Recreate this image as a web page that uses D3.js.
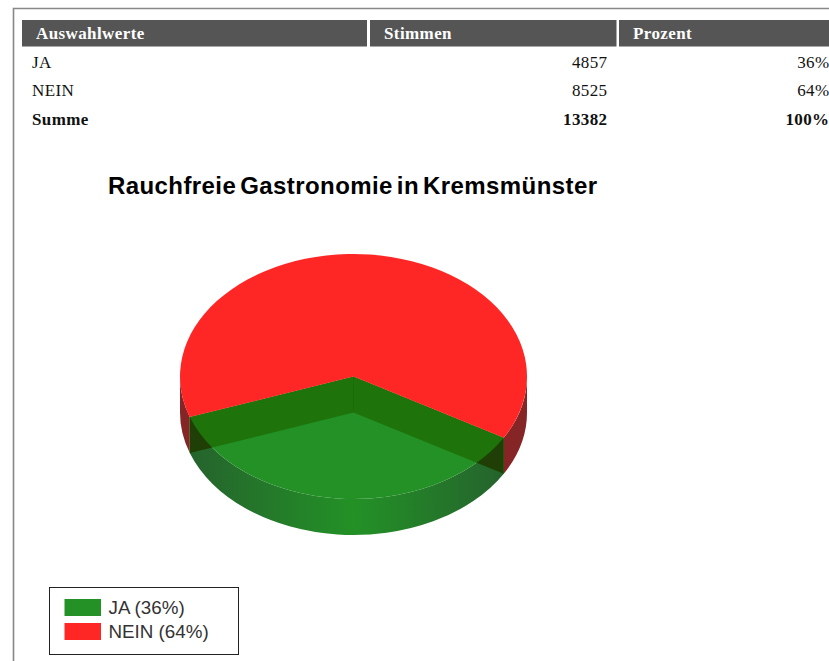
<!DOCTYPE html>
<html>
<head>
<meta charset="utf-8">
<script src="https://cdn.jsdelivr.net/npm/d3@7"></script>
<style>
  html, body { margin: 0; padding: 0; background: #fff; overflow: hidden; }
  svg { display: block; }
  .serif { font-family: "Liberation Serif", serif; }
  .sans { font-family: "Liberation Sans", sans-serif; }
</style>
</head>
<body>
<svg></svg>
<script>
// chart values
let categories = ['JA', 'NEIN']
let votes = [4857, 8525]
let percents = ['36%', '64%']
let totalLabel = 'Summe'
let totalVotes = 13382
let totalPercent = '100%'
let headers = ['Auswahlwerte', 'Stimmen', 'Prozent']
let chartTitle = 'Rauchfreie Gastronomie in Kremsmünster'
let sliceColors = ['#239126', '#ff2626']
let wallColors = ['#25632d', '#852525']

let width = 829
let height = 661

// pie geometry
let cx = 353.5
let cy = 376.5
let rx = 173.5
let ry = 122.5
let depth = 36

let svg = d3.select('svg').attr('width', width).attr('height', height)

let drawFrame = () => {
    svg.append('path')
       .attr('d', `M13.5,${height}V8.5H${width}`)
       .attr('fill', 'none')
       .attr('stroke', '#888')
       .attr('stroke-width', 1.6)
}

let drawTable = () => {
    let columns = [
        {x: 22, w: 345, textX: 36},
        {x: 370, w: 246.5, textX: 384},
        {x: 619, w: 210, textX: 633}
    ]
    let rowY = d3.scalePoint().domain([...categories, totalLabel]).range([68, 124.5])
    let valueRight = 607.5
    let percentRight = 829.5

    let head = svg.append('g')
    head.selectAll('rect')
        .data(columns)
        .enter()
        .append('rect')
        .attr('x', (item) => item.x)
        .attr('y', 20)
        .attr('width', (item) => item.w)
        .attr('height', 26.5)
        .attr('fill', '#555')
    head.selectAll('text')
        .data(columns)
        .enter()
        .append('text')
        .attr('class', 'serif')
        .attr('x', (item) => item.textX)
        .attr('y', 39)
        .attr('fill', '#fff')
        .attr('font-size', 17)
        .attr('font-weight', 'bold')
        .attr('letter-spacing', 0.4)
        .text((item, index) => headers[index])

    let rows = categories.map((item, index) => {
        return {label: item, votes: votes[index], percent: percents[index], weight: 'normal'}
    })
    rows.push({label: totalLabel, votes: totalVotes, percent: totalPercent, weight: 'bold'})

    let rowGroups = svg.append('g').selectAll('g')
        .data(rows)
        .enter()
        .append('g')
        .attr('class', 'serif')
        .attr('font-size', 17)
        .attr('fill', '#111')
        .attr('letter-spacing', 0.4)
        .attr('font-weight', (item) => item.weight)
    rowGroups.append('text')
        .attr('x', 32)
        .attr('y', (item) => rowY(item.label))
        .text((item) => item.label)
    rowGroups.append('text')
        .attr('x', valueRight)
        .attr('y', (item) => rowY(item.label))
        .attr('text-anchor', 'end')
        .text((item) => item.votes)
    rowGroups.append('text')
        .attr('x', percentRight)
        .attr('y', (item) => rowY(item.label))
        .attr('text-anchor', 'end')
        .text((item) => item.percent)
}

let drawTitle = () => {
    svg.append('text')
       .attr('class', 'sans')
       .attr('x', 108)
       .attr('y', 194)
       .attr('font-size', 24)
       .attr('font-weight', 'bold')
       .attr('fill', '#000')
       .attr('word-spacing', -3)
       .attr('textLength', 489)
       .attr('lengthAdjust', 'spacing')
       .text(chartTitle)
}

let drawPie = () => {
    // JA starts lower right and runs clockwise through the front of the pie
    let startAngle = 120 * Math.PI / 180
    let pie = d3.pie().sort(null).startAngle(startAngle).endAngle(startAngle + 2 * Math.PI)
    let slices = pie(votes)
    let green = slices[0]
    let red = slices[1]

    // d3.arc is circular, so the top is squashed with a scale transform
    let arc = d3.arc().innerRadius(0).outerRadius(rx)
    let rimX = (angle) => cx + rx * Math.sin(angle)
    let rimY = (angle) => cy - ry * Math.cos(angle)

    // the outer wall between two angles, both on the front half
    let wallPath = (a0, a1) => {
        let large = a1 - a0 > Math.PI ? 1 : 0
        return `M${rimX(a0)},${rimY(a0)}A${rx},${ry} 0 ${large} 1 ${rimX(a1)},${rimY(a1)}` +
               `V${rimY(a1) + depth}A${rx},${ry} 0 ${large} 0 ${rimX(a0)},${rimY(a0) + depth}Z`
    }
    let innerWallPath = (angle) => {
        return `M${cx},${cy}L${rimX(angle)},${rimY(angle)}V${rimY(angle) + depth}L${cx},${cy + depth}Z`
    }

    let defs = svg.append('defs')
    let gradient = defs.append('linearGradient')
                       .attr('id', 'wallGradient')
                       .attr('gradientUnits', 'userSpaceOnUse')
                       .attr('x1', rimX(green.endAngle))
                       .attr('x2', rimX(green.startAngle))
                       .attr('y1', 0)
                       .attr('y2', 0)
    let stopAt = (cx - rimX(green.endAngle)) / (rimX(green.startAngle) - rimX(green.endAngle))
    gradient.append('stop').attr('offset', 0).attr('stop-color', wallColors[0])
    gradient.append('stop').attr('offset', stopAt).attr('stop-color', sliceColors[0])
    gradient.append('stop').attr('offset', 1).attr('stop-color', wallColors[0])

    let greenWall = wallPath(green.startAngle, green.endAngle)
    defs.append('clipPath').attr('id', 'wallClip').append('path').attr('d', greenWall)

    // red wall only shows on both sides of the green one
    svg.append('path')
       .attr('d', wallPath(Math.PI / 2, green.startAngle))
       .attr('fill', wallColors[1])
    svg.append('path')
       .attr('d', wallPath(green.endAngle, 3 * Math.PI / 2))
       .attr('fill', wallColors[1])

    svg.append('path').attr('d', greenWall).attr('fill', 'url(#wallGradient)')

    let top = svg.append('g')
                 .attr('transform', `translate(${cx},${cy}) scale(1,${ry / rx})`)
    top.append('path').attr('d', arc(green)).attr('fill', sliceColors[0])

    // cut faces of the green slice, darker where they cross the outer wall
    let cuts = [green.startAngle, green.endAngle]
    svg.selectAll('.cut')
       .data(cuts)
       .enter()
       .append('path')
       .attr('class', 'cut')
       .attr('d', (item) => innerWallPath(item))
       .attr('fill', '#1e730a')
    svg.selectAll('.cutDark')
       .data(cuts)
       .enter()
       .append('path')
       .attr('class', 'cutDark')
       .attr('d', (item) => innerWallPath(item))
       .attr('clip-path', 'url(#wallClip)')
       .attr('fill', '#1f3f07')
    svg.append('path')
       .attr('d', `M${cx},${cy}V${cy + depth}`)
       .attr('stroke', '#1c6a0a')
       .attr('stroke-width', 1)

    svg.append('g')
       .attr('transform', `translate(${cx},${cy}) scale(1,${ry / rx})`)
       .append('path')
       .attr('d', arc(red))
       .attr('fill', sliceColors[1])
}

let drawLegend = () => {
    let legendY = d3.scalePoint().domain(categories).range([599, 623])
    svg.append('rect')
       .attr('x', 49.5)
       .attr('y', 587.5)
       .attr('width', 189)
       .attr('height', 67)
       .attr('fill', '#fff')
       .attr('stroke', '#222')
       .attr('stroke-width', 1)

    let items = svg.append('g').selectAll('g')
                   .data(categories)
                   .enter()
                   .append('g')
    items.append('rect')
         .attr('x', 64.5)
         .attr('y', (item) => legendY(item))
         .attr('width', 36.5)
         .attr('height', 17)
         .attr('fill', (item, index) => sliceColors[index])
    items.append('text')
         .attr('class', 'sans')
         .attr('x', 108.5)
         .attr('y', (item) => legendY(item) + 15)
         .attr('font-size', 18.8)
         .attr('fill', '#333')
         .text((item, index) => `${item} (${percents[index]})`)
}

drawFrame()
drawTable()
drawTitle()
drawPie()
drawLegend()
</script>
</body>
</html>
